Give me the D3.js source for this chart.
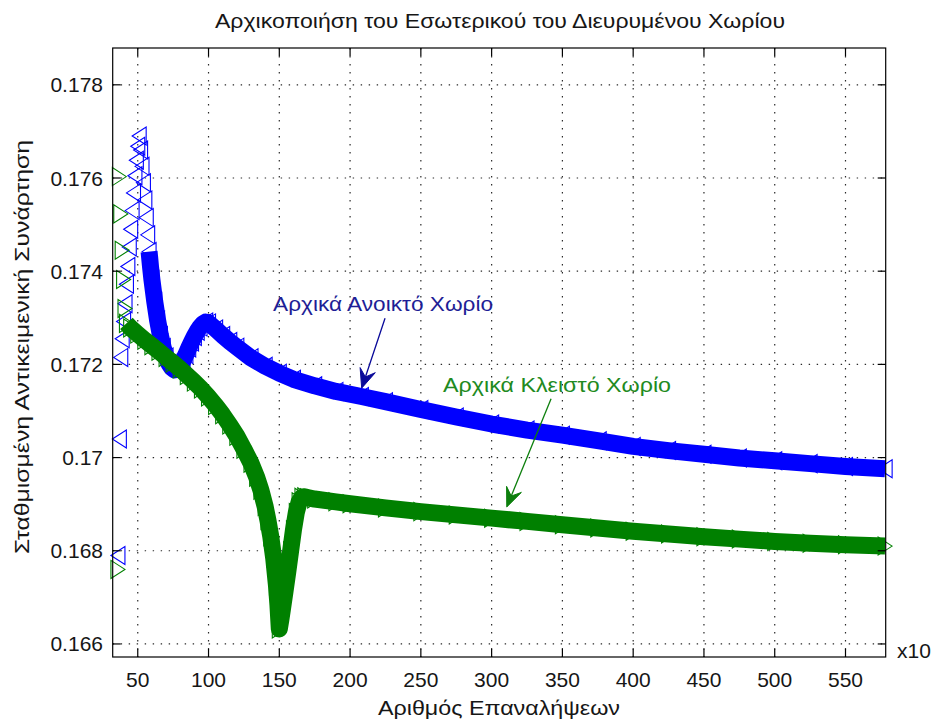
<!DOCTYPE html>
<html>
<head>
<meta charset="utf-8">
<script src="https://cdn.jsdelivr.net/npm/d3@7"></script>
<style>
  html, body { margin: 0; padding: 0; background: #fff; }
  svg { display: block; font-family: "Liberation Sans", Arial, sans-serif; }
</style>
</head>
<body>
<svg id="chart" width="936" height="724"></svg>
<script>
// Tick values and labels
const iterTicks = [50, 100, 150, 200, 250, 300, 350, 400, 450, 500, 550];
const valueTicks = [0.166, 0.168, 0.170, 0.172, 0.174, 0.176, 0.178];
const valueTickLabels = ["0.166", "0.168", "0.17", "0.172", "0.174", "0.176", "0.178"];

// Initially open region (blue, left-pointing triangles)
const openIter = [36, 37, 38, 39, 40, 41, 42, 43, 44, 45, 46, 47, 48, 49, 50, 51,
  52, 53, 54, 55, 56, 57, 58, 59, 60, 62, 64, 66, 68, 70, 72, 74, 76, 78, 80, 82,
  84, 86, 88, 90, 92, 94, 96, 98, 100, 105, 110, 115, 120, 130, 140, 150, 160,
  175, 190, 208, 225, 250, 275, 300, 325, 350, 376, 400, 425, 450, 475, 500, 525,
  550, 578];
const openValue = [0.16790, 0.17040, 0.17215, 0.17255, 0.17292, 0.17330, 0.17372,
  0.17410, 0.17452, 0.17490, 0.17530, 0.17568, 0.17605, 0.17638, 0.17668, 0.17690,
  0.17660, 0.17625, 0.17590, 0.17553, 0.17515, 0.17478, 0.17442, 0.17410, 0.17382,
  0.17335, 0.17295, 0.17262, 0.17236, 0.17216, 0.17202, 0.17193, 0.17188, 0.17190,
  0.17197, 0.17208, 0.17221, 0.17235, 0.17248, 0.17260, 0.17271, 0.17280, 0.17287,
  0.17291, 0.17289, 0.17276, 0.17262, 0.17249, 0.17237, 0.17214, 0.17196, 0.17181,
  0.17168, 0.17154, 0.17142, 0.17131, 0.17120, 0.17103, 0.17087, 0.17072, 0.17059,
  0.17048, 0.17036, 0.17024, 0.17015, 0.17007, 0.16999, 0.16993, 0.16987, 0.16981,
  0.16976];
const openDenseFrom = 58;

// Initially closed region (green, right-pointing triangles)
const closedIter = [36, 37, 38, 39, 40, 41, 42, 45, 50, 55, 60, 65, 70, 75, 80, 85,
  90, 95, 100, 105, 110, 115, 120, 125, 130, 134, 137, 140, 142, 144, 146, 148, 149,
  150, 151, 152, 154, 156, 158, 160, 162, 164, 166, 168, 170, 175, 190, 200, 225,
  250, 275, 300, 325, 350, 375, 400, 425, 450, 475, 500, 525, 550, 578];
const closedValue = [0.16760, 0.17603, 0.17523, 0.17445, 0.17382, 0.17320, 0.17288,
  0.17278, 0.17265, 0.17252, 0.17240, 0.17228, 0.17215, 0.17203, 0.17190, 0.17176,
  0.17162, 0.17147, 0.17130, 0.17112, 0.17092, 0.17070, 0.17046, 0.17018, 0.16988,
  0.16958, 0.16930, 0.16895, 0.16865, 0.16830, 0.16785, 0.16725, 0.16685, 0.16632,
  0.16650, 0.16670, 0.16712, 0.16755, 0.16800, 0.16845, 0.16882, 0.16905, 0.16915,
  0.16916, 0.16914, 0.16911, 0.16905, 0.16901, 0.16892, 0.16884, 0.16877, 0.16870,
  0.16863, 0.16856, 0.16849, 0.16842, 0.16836, 0.16830, 0.16825, 0.16820, 0.16816,
  0.16813, 0.16810];
const closedDenseFrom = 42;

const svg = d3.select("#chart");
const plot = { left: 112.7, top: 48, right: 885.7, bottom: 657 };

const x = d3.scaleLinear().domain([32.3, 578.4]).range([plot.left, plot.right]);
const y = d3.scaleLinear().domain([0.16572, 0.17879]).range([plot.bottom, plot.top]);

const textColor = "#161616";
const blue = "#0000ff";
const green = "#008000";

// Dotted grid
const grid = svg.append("g").attr("stroke", "#2a2a2a").attr("stroke-width", 1.2)
  .attr("stroke-dasharray", "1.4,6.6");
grid.selectAll("line.gx").data(iterTicks).join("line").attr("class", "gx")
  .attr("x1", d => x(d)).attr("x2", d => x(d))
  .attr("y1", plot.top).attr("y2", plot.bottom);
grid.selectAll("line.gy").data(valueTicks).join("line").attr("class", "gy")
  .attr("y1", d => y(d)).attr("y2", d => y(d))
  .attr("x1", plot.left).attr("x2", plot.right);

// Series drawing: dense stretch rendered as a marker-height band, every point as a triangle marker
const tri = (dir, w, h) => dir < 0
  ? `M${-w / 2},0L${w / 2},${-h / 2}L${w / 2},${h / 2}Z`
  : `M${w / 2},0L${-w / 2},${-h / 2}L${-w / 2},${h / 2}Z`;

function drawSeries(iters, values, denseFrom, color, dir) {
  const pts = iters.map((it, i) => ({ it, v: values[i] }));
  const g = svg.append("g");
  const line = d3.line().x(d => x(d.it)).y(d => y(d.v));
  g.append("path")
    .datum(pts.filter(d => d.it >= denseFrom))
    .attr("d", line)
    .attr("fill", "none")
    .attr("stroke", color)
    .attr("stroke-width", 17)
    .attr("stroke-linejoin", "round")
    .attr("stroke-linecap", "butt");
  g.selectAll("path.m").data(pts).join("path").attr("class", "m")
    .attr("transform", d => `translate(${x(d.it)},${y(d.v)})`)
    .attr("d", tri(dir, 14, 18))
    .attr("fill", "none")
    .attr("stroke", color)
    .attr("stroke-width", 1.1);
}

drawSeries(openIter, openValue, openDenseFrom, blue, -1);
drawSeries(closedIter, closedValue, closedDenseFrom, green, 1);

// Axes box and inward ticks
const tickLen = 8;
const axes = svg.append("g").attr("stroke", "#000").attr("stroke-width", 1.2);
axes.append("rect")
  .attr("x", plot.left).attr("y", plot.top)
  .attr("width", plot.right - plot.left).attr("height", plot.bottom - plot.top)
  .attr("fill", "none");
iterTicks.forEach(t => {
  axes.append("line").attr("x1", x(t)).attr("x2", x(t))
    .attr("y1", plot.bottom).attr("y2", plot.bottom - tickLen);
  axes.append("line").attr("x1", x(t)).attr("x2", x(t))
    .attr("y1", plot.top).attr("y2", plot.top + tickLen);
});
valueTicks.forEach(t => {
  axes.append("line").attr("y1", y(t)).attr("y2", y(t))
    .attr("x1", plot.left).attr("x2", plot.left + tickLen);
  axes.append("line").attr("y1", y(t)).attr("y2", y(t))
    .attr("x1", plot.right).attr("x2", plot.right - tickLen);
});

// Tick labels
const fs = 21;
svg.append("g").selectAll("text").data(iterTicks).join("text")
  .attr("x", d => x(d)).attr("y", 687)
  .attr("text-anchor", "middle").attr("font-size", fs).attr("fill", textColor)
  .text(d => d);
svg.append("g").selectAll("text").data(valueTicks).join("text")
  .attr("x", 103).attr("y", d => y(d) + 7.5)
  .attr("text-anchor", "end").attr("font-size", fs).attr("fill", textColor)
  .text((d, i) => valueTickLabels[i]);

svg.append("text").attr("x", 897).attr("y", 658)
  .attr("font-size", fs).attr("fill", textColor).text("x10");

// Titles (the lettering is a little wider than Liberation Sans, so widths are set)
function wideText(sel, len) {
  return sel.attr("textLength", len).attr("lengthAdjust", "spacingAndGlyphs");
}
wideText(svg.append("text").attr("x", 500).attr("y", 28)
  .attr("text-anchor", "middle").attr("font-size", fs).attr("fill", textColor)
  .text("Αρχικοποιήση του Εσωτερικού του Διευρυμένου Χωρίου"), 570);
wideText(svg.append("text").attr("x", 499).attr("y", 715)
  .attr("text-anchor", "middle").attr("font-size", fs).attr("fill", textColor)
  .text("Αριθμός Επαναλήψεων"), 242);
wideText(svg.append("text")
  .attr("transform", "translate(29,347) rotate(-90)")
  .attr("text-anchor", "middle").attr("font-size", fs).attr("fill", textColor)
  .text("Σταθμισμένη Αντικειμενική Συνάρτηση"), 414);

// Annotations with arrows
function arrow(from, to, color) {
  const x0 = x(from[0]), y0 = y(from[1]), x1 = x(to[0]), y1 = y(to[1]);
  const len = Math.hypot(x1 - x0, y1 - y0);
  const ux = (x1 - x0) / len, uy = (y1 - y0) / len;
  const nx = -uy, ny = ux;
  const L = 19, W = 16;
  const bx = x1 - ux * L, by = y1 - uy * L;
  const kx = x1 - ux * L * 0.62, ky = y1 - uy * L * 0.62;
  svg.append("line").attr("x1", x0).attr("y1", y0).attr("x2", kx).attr("y2", ky)
    .attr("stroke", color).attr("stroke-width", 1.3);
  svg.append("path")
    .attr("d", `M${x1},${y1}L${bx + nx * W / 2},${by + ny * W / 2}L${kx},${ky}L${bx - nx * W / 2},${by - ny * W / 2}Z`)
    .attr("fill", color).attr("stroke", color).attr("stroke-width", 1);
}

const openLabel = { text: "Αρχικά Ανοικτό Χωρίο", at: [145.6, 0.17314], from: [224.7, 0.17299], to: [208.2, 0.17149] };
const closedLabel = { text: "Αρχικά Κλειστό Χωρίο", at: [265.7, 0.17141], from: [342.0, 0.17126], to: [310.7, 0.16894] };

wideText(svg.append("text").attr("x", x(openLabel.at[0])).attr("y", y(openLabel.at[1]))
  .attr("font-size", fs).attr("fill", "#1e1e96").text(openLabel.text), 220);
arrow(openLabel.from, openLabel.to, "#0a0a9a");
wideText(svg.append("text").attr("x", x(closedLabel.at[0])).attr("y", y(closedLabel.at[1]))
  .attr("font-size", fs).attr("fill", "#218a21").text(closedLabel.text), 228);
arrow(closedLabel.from, closedLabel.to, "#0c7f0c");
</script>
</body>
</html>
